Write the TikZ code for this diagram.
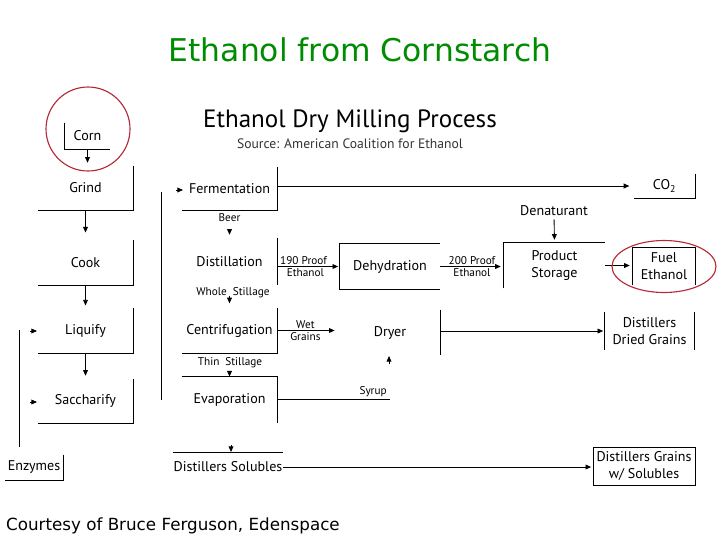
\documentclass[tikz,border=0pt]{standalone}
\usepackage{fontspec}
\setmainfont{PT Sans}
\newfontfamily\comicfont{DejaVu Sans}
\usetikzlibrary{arrows.meta,positioning}
\definecolor{titlegreen}{RGB}{0,140,0}
\definecolor{ringred}{RGB}{180,40,55}

\begin{document}
\begin{tikzpicture}[x=0.025cm, y=-0.025cm, line width=0.6pt,
	flow/.style={-{Triangle[length=4pt,width=3.4pt]}},
	stage/.style={inner sep=0pt, align=center, font=\fontsize{10}{12}\selectfont},
	dims/.style 2 args={minimum width=#1*\px, minimum height=#2*\px},
	tag/.style={inner sep=1pt, font=\fontsize{8}{9}\selectfont},
	ring/.style={draw=ringred, line width=0.8pt}]
	\useasboundingbox (0,0) rectangle (720,540);
	\def\px{0.025cm}
	
	\node[font=\comicfont\fontsize{22.3}{26}\selectfont, text=titlegreen] (title) at (360,50) {Ethanol from Cornstarch};
	\node[font=\fontsize{17.8}{20}\selectfont] (heading) at (350,121) {Ethanol Dry Milling Process};
	\node[font=\fontsize{9.7}{11}\selectfont, text=black!80] (source) at (350,144) {Source: American Coalition for Ethanol};
	\node[font=\comicfont\fontsize{11.9}{14}\selectfont, anchor=west] (credit) at (1,526) {Courtesy of Bruce Ferguson, Edenspace};
	
	\node[stage, dims={45}{26}] (corn) at (87.5,136) {Corn};
	\node[stage, dims={95}{44}] (grind) at (85.5,188) {Grind};
	\node[stage, dims={95}{45}] (cook) at (85.5,262.5) {Cook};
	\node[stage, dims={95}{45}] (liquify) at (85.5,330.5) {Liquify};
	\node[stage, dims={95}{44}] (sacch) at (85.5,401) {Saccharify};
	\node[stage, dims={58}{25}] (enzymes) at (34,467.5) {Enzymes};
	
	\draw (corn.north west) -- (corn.south west) -- (corn.south east);
	\draw (grind.north east) -- (grind.south east) -- (grind.south west);
	\draw (cook.north east) -- (cook.south east) -- (cook.south west);
	\draw (liquify.north east) -- (liquify.south east) -- (liquify.south west);
	\draw (sacch.north east) -- (sacch.south east) -- (sacch.south west);
	\draw (enzymes.north east) -- (enzymes.south east) -- (enzymes.south west);
	
	\draw[flow, shorten >=2pt] (corn.south) -- (corn.south |- grind.north);
	\draw[flow, shorten >=5pt] (grind.south) -- (grind.south |- cook.north);
	\draw[flow, shorten >=1.5pt] (cook.south) -- (cook.south |- liquify.north);
	\draw[flow, shorten >=2pt] (liquify.south) -- (liquify.south |- sacch.north);
	
	\coordinate (enzTop) at (19,330);
	\coordinate (enzFoot) at (19,447);
	\draw (enzFoot) -- (enzTop);
	\coordinate (liqIn) at (37,331);
	\coordinate (sacIn) at (37,402);
	\draw[flow] (liqIn) ++(-7,0) -- (liqIn);
	\draw[flow] (sacIn) ++(-7,0) -- (sacIn);
	
	\coordinate (divTop) at (161,192);
	\coordinate (divFoot) at (161,400);
	\draw (divTop) -- (divFoot);
	
	\node[stage, dims={95}{43}] (ferm) at (229.5,188.5) {Fermentation};
	\node[stage, dims={61}{24}] (co2) at (664.5,186) {CO\textsubscript{2}};
	\draw (ferm.north east) -- (ferm.south east) -- (ferm.south west);
	\draw (co2.north east) -- (co2.south east) -- (co2.south west);
	\coordinate (fermIn) at (183,190);
	\draw[flow] (fermIn) ++(-7,0) -- (fermIn);
	\draw[flow, shorten >=3pt] (ferm.east |- co2.west) -- (co2.west);
	
	\node[tag, below=1pt of ferm] (beer) {Beer};
	\node[stage, dims={95}{47}] (distil) at (229.5,261.5) {Distillation};
	\draw (distil.north east) -- (distil.south east);
	\draw[flow, shorten <=4pt, shorten >=2pt] (beer.south) -- (beer.south |- distil.north);
	
	\node[stage, dims={100}{45}] (dehyd) at (390,266.5) {Dehydration};
	\draw (dehyd.north east) -- (dehyd.north west) -- (dehyd.south west) -- (dehyd.south east);
	\draw[flow, shorten >=1pt] (distil.east |- dehyd.west) -- node[tag, above, pos=0.42] {190 Proof} node[tag, below, pos=0.45] {Ethanol} (dehyd.west);
	
	\node[stage, dims={101}{45}] (store) at (554.5,265.5) {Product\\Storage};
	\draw (store.south west) -- (store.north west) -- (store.north east);
	\draw[flow, shorten >=2pt] (dehyd.east) -- node[tag, above] {200 Proof} node[tag, below] {Ethanol} (dehyd.east -| store.west);
	\node[stage] (denat) at (554,211) {Denaturant};
	\draw[flow, shorten <=2pt, shorten >=2pt] (denat.south) -- (store.north);
	
	\node[stage, dims={62}{37}] (fuel) at (664,266.5) {Fuel\\Ethanol};
	\draw (fuel.south west) -- (fuel.north west) -- (fuel.north east) -- (fuel.south east);
	\draw[flow, shorten >=2pt] (store.east) -- (store.east -| fuel.west);
	\draw[ring] (fuel.center) ellipse [x radius=52, y radius=26];
	\draw[ring] (88,129) circle [radius=42];
	
	\node[tag] (whole) at (233,293) {Whole\ \ Stillage};
	\node[stage, dims={95}{45}] (centrif) at (229.5,330.5) {Centrifugation};
	\draw (centrif.north east) -- (centrif.south east) -- (centrif.south west);
	\draw[flow, shorten <=3pt, shorten >=3pt] (whole.south -| centrif.north) -- (centrif.north);
	
	\node[stage, dims={100}{45}] (dryer) at (390,332.5) {Dryer};
	\draw (dryer.north east) -- (dryer.south east);
	\draw[flow, shorten >=3.5pt] (centrif.east) -- node[tag, above, pos=0.45] {Wet} node[tag, below, pos=0.45] {Grains} (centrif.east -| dryer.west);
	
	\node[tag] (thin) at (230,363) {Thin\ \ Stillage};
	\node[stage, dims={95}{46}] (evap) at (229.5,400) {Evaporation};
	\draw (evap.north west) -- (evap.north east) -- (evap.south east);
	\draw[flow, shorten <=3pt] (thin.south -| evap.north) -- (evap.north);
	
	\coordinate (syrupEnd) at (390,399);
	\draw (evap.east |- syrupEnd) -- node[tag, above, pos=0.85] {Syrup} (syrupEnd);
	\coordinate (dryerIn) at (389,356);
	\draw[flow] (dryerIn) ++(0,8) -- (dryerIn);
	
	\node[stage, dims={89}{38}] (ddg) at (649.5,331) {Distillers\\Dried Grains};
	\draw (ddg.north west) -- (ddg.south west);
	\draw (ddg.north east) -- (ddg.south east);
	\draw[flow, shorten >=1pt] (dryer.east |- ddg.west) -- (ddg.west);
	
	\node[stage, dims={110}{28}] (solub) at (228,467) {Distillers Solubles};
	\draw (solub.north west) -- (solub.north east);
	\coordinate (solubIn) at (231,452);
	\draw[flow] (solubIn) ++(0,-7) -- (solubIn);
	\node[stage, draw, dims={102}{38}] (dgs) at (644,466) {Distillers Grains\\w/ Solubles};
	\draw[flow, shorten >=1pt] (solub.east) -- (solub.east -| dgs.west);
\end{tikzpicture}
\end{document}
